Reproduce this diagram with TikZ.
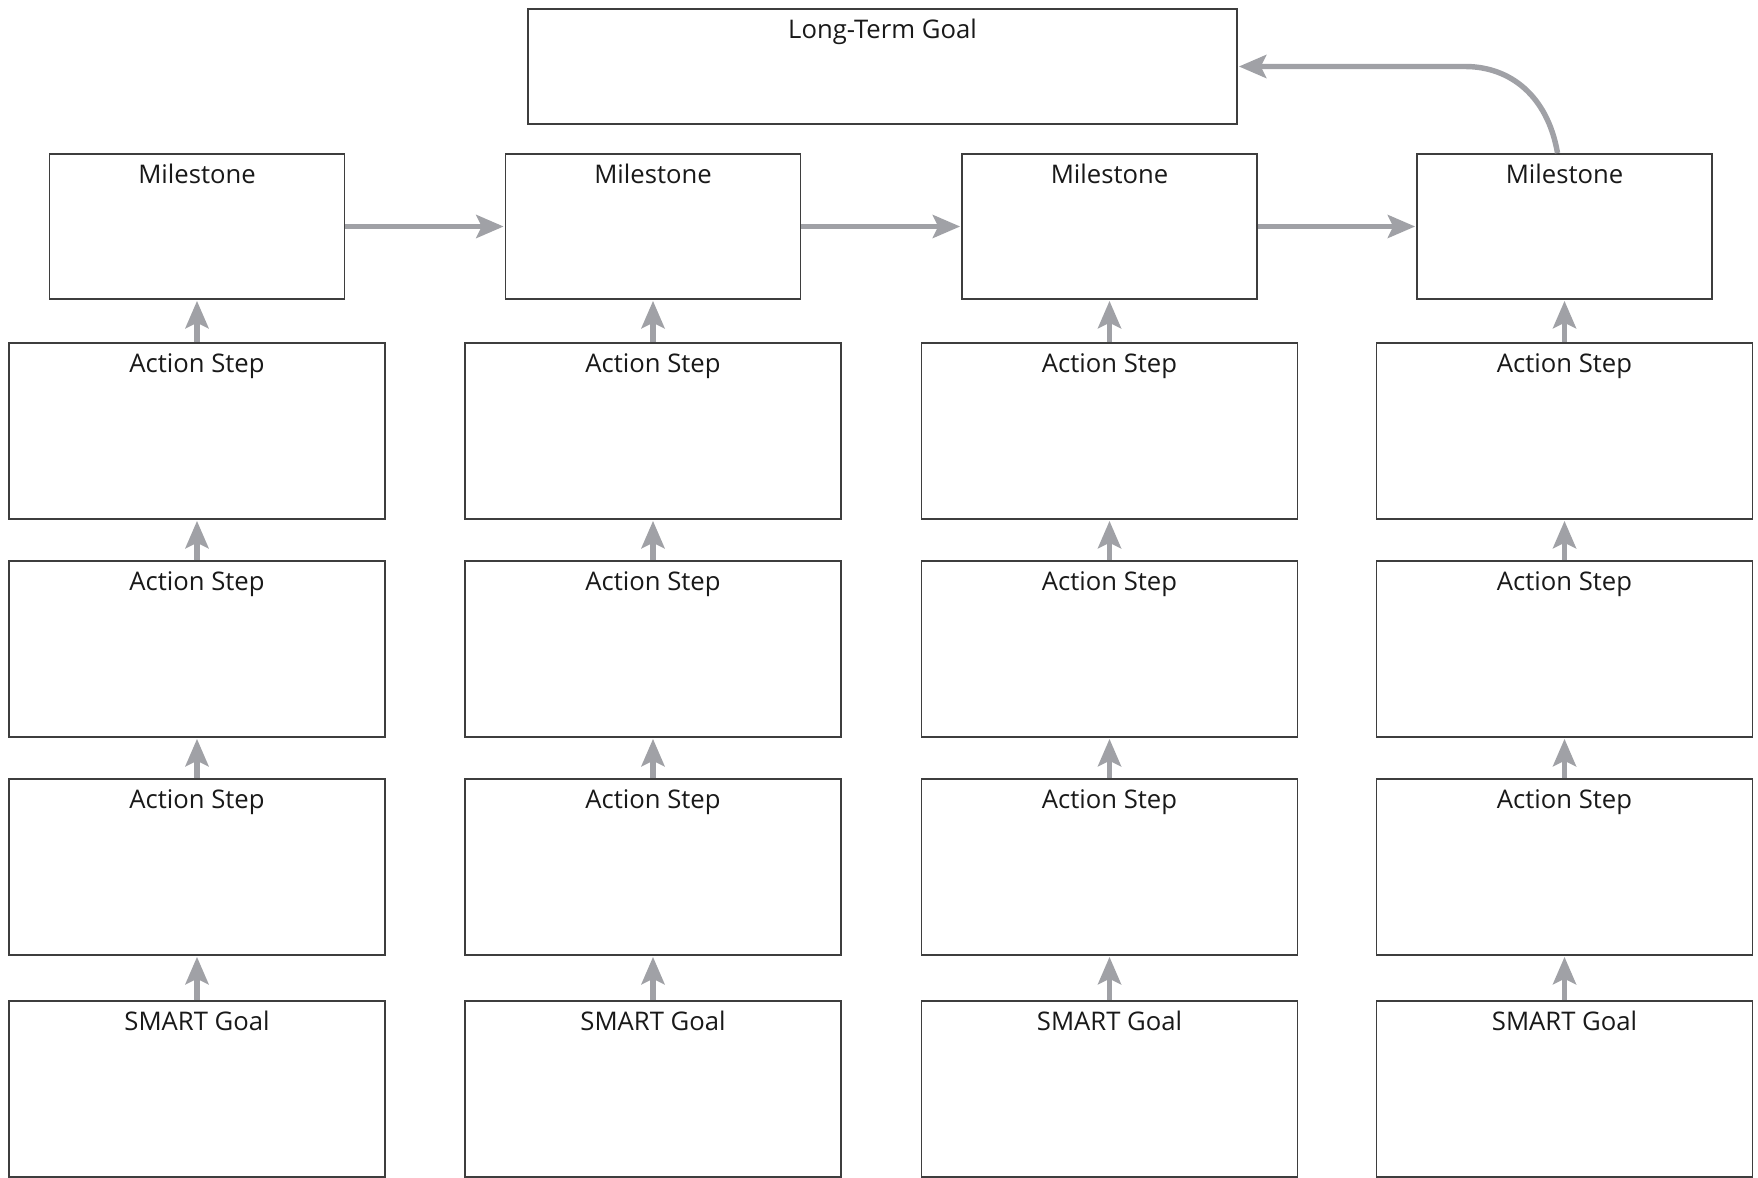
\documentclass[tikz,border=0pt]{standalone}
\usepackage{fontspec}
\setmainfont{Open Sans}
\usepackage{tikz}
\usetikzlibrary{arrows.meta}
\definecolor{arrowgray}{RGB}{160,161,166}
\definecolor{edgegray}{RGB}{62,62,62}
\newcommand{\boxfont}{\fontsize{14.6pt}{17pt}\selectfont}

\begin{document}
\begin{tikzpicture}[
        box/.style={draw=edgegray,line width=1.1pt,fill=white,inner sep=0pt},
        goalbox/.style={box,minimum width=14.18cm,minimum height=2.3cm},
        milebox/.style={box,minimum width=5.9cm,minimum height=2.9cm},
        stepbox/.style={box,minimum width=7.52cm,minimum height=3.52cm},
        tag/.style={anchor=north,inner sep=0pt,yshift=-0.22cm,font=\boxfont,text=black!90},
        flow/.style={-{Stealth[length=15.5pt,width=13pt,inset=3pt]},
                     arrowgray,line width=3.1pt,shorten >=0.5pt}]
        \useasboundingbox (0,0) rectangle (35.16,-23.56);
        \node[goalbox,label={[tag]north:Long-Term Goal}] (lt) at (17.65,-1.33) {};
        % milestones
        \node[milebox,label={[tag]north:Milestone}] (ms1) at ( 3.94,-4.53) {};
        \node[milebox,label={[tag]north:Milestone}] (ms2) at (13.06,-4.53) {};
        \node[milebox,label={[tag]north:Milestone}] (ms3) at (22.19,-4.53) {};
        \node[milebox,label={[tag]north:Milestone}] (ms4) at (31.29,-4.53) {};
        % action steps
        \node[stepbox,label={[tag]north:Action Step}] (a1) at ( 3.94,-8.62) {};
        \node[stepbox,label={[tag]north:Action Step}] (a2) at (13.06,-8.62) {};
        \node[stepbox,label={[tag]north:Action Step}] (a3) at (22.19,-8.62) {};
        \node[stepbox,label={[tag]north:Action Step}] (a4) at (31.29,-8.62) {};
        \node[stepbox,label={[tag]north:Action Step}] (b1) at ( 3.94,-12.98) {};
        \node[stepbox,label={[tag]north:Action Step}] (b2) at (13.06,-12.98) {};
        \node[stepbox,label={[tag]north:Action Step}] (b3) at (22.19,-12.98) {};
        \node[stepbox,label={[tag]north:Action Step}] (b4) at (31.29,-12.98) {};
        \node[stepbox,label={[tag]north:Action Step}] (c1) at ( 3.94,-17.34) {};
        \node[stepbox,label={[tag]north:Action Step}] (c2) at (13.06,-17.34) {};
        \node[stepbox,label={[tag]north:Action Step}] (c3) at (22.19,-17.34) {};
        \node[stepbox,label={[tag]north:Action Step}] (c4) at (31.29,-17.34) {};
        % smart goals
        \node[stepbox,label={[tag]north:SMART Goal}] (sg1) at ( 3.94,-21.78) {};
        \node[stepbox,label={[tag]north:SMART Goal}] (sg2) at (13.06,-21.78) {};
        \node[stepbox,label={[tag]north:SMART Goal}] (sg3) at (22.19,-21.78) {};
        \node[stepbox,label={[tag]north:SMART Goal}] (sg4) at (31.29,-21.78) {};
        % upward arrows
        \draw[flow] (sg1)--(c1);  \draw[flow] (c1)--(b1);
        \draw[flow] (b1)--(a1);   \draw[flow] (a1)--(ms1);
        \draw[flow] (sg2)--(c2);  \draw[flow] (c2)--(b2);
        \draw[flow] (b2)--(a2);   \draw[flow] (a2)--(ms2);
        \draw[flow] (sg3)--(c3);  \draw[flow] (c3)--(b3);
        \draw[flow] (b3)--(a3);   \draw[flow] (a3)--(ms3);
        \draw[flow] (sg4)--(c4);  \draw[flow] (c4)--(b4);
        \draw[flow] (b4)--(a4);   \draw[flow] (a4)--(ms4);
        % milestone chain
        \draw[flow] (ms1)--(ms2);
        \draw[flow] (ms2)--(ms3);
        \draw[flow] (ms3)--(ms4);
        \coordinate (bend) at (29.3,-1.33);
        \draw[flow] ([xshift=-0.14cm]ms4.north) .. controls +(-0.2,1.15) and +(0.9,0) .. (bend) -- (lt.east);
      \end{tikzpicture}
\end{document}
